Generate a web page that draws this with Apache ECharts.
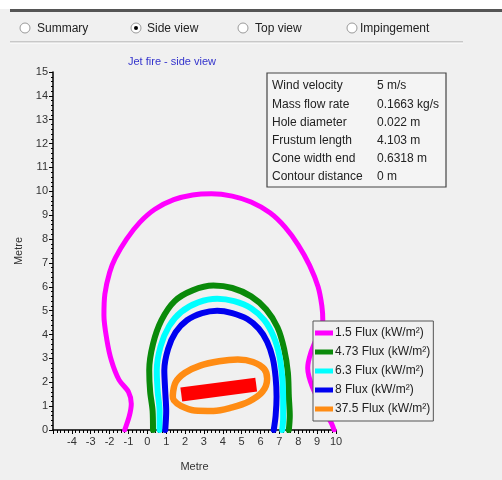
<!DOCTYPE html>
<html>
<head>
<meta charset="utf-8">
<script src="https://cdn.jsdelivr.net/npm/echarts@6/dist/echarts.min.js"></script>
<style>
html,body{margin:0;padding:0;background:#f0f0f0;}
#chart{width:502px;height:480px;}
</style>
</head>
<body>
<div id="chart"></div>
<script>
// ---- data ----
const tabLabels = ['Summary', 'Side view', 'Top view', 'Impingement'];
const selectedTab = 'Side view';
const chartTitle = 'Jet fire - side view';
const infoLabels = ['Wind velocity', 'Mass flow rate', 'Hole diameter', 'Frustum length', 'Cone width end', 'Contour distance'];
const infoValues = ['5 m/s', '0.1663 kg/s', '0.022 m', '4.103 m', '0.6318 m', '0 m'];
const seriesNames = ['1.5 Flux (kW/m\u00b2)', '4.73 Flux (kW/m\u00b2)', '6.3 Flux (kW/m\u00b2)', '8 Flux (kW/m\u00b2)', '37.5 Flux (kW/m\u00b2)'];
const xTicks = [-5, 10];
const yTicks = [0, 15];

const flux1_5 = [[-1.2,0],[-0.95,0.6],[-0.85,1.1],[-1.0,1.6],[-1.5,2.1],[-1.9,2.9],[-2.15,3.8],[-2.3,4.8],[-2.25,5.7],[-2.0,6.6],[-1.7,7.2],[-1.1,8.0],[-0.4,8.7],[0.4,9.25],[1.4,9.65],[2.4,9.85],[3.4,9.9],[4.5,9.8],[5.5,9.55],[6.5,9.1],[7.3,8.5],[8.0,7.75],[8.6,6.9],[9.05,6.0],[9.25,5.2],[9.3,4.6],[9.05,4.0],[8.65,3.2],[8.5,2.6],[8.75,1.8],[9.3,0.95],[9.75,0.3],[9.9,0]];
const flux4_73 = [[0.3,0],[0.28,0.8],[0.15,1.6],[0.1,2.5],[0.3,3.6],[0.75,4.6],[1.45,5.4],[2.4,5.85],[3.5,6.05],[4.5,5.95],[5.5,5.6],[6.3,5.05],[6.9,4.3],[7.25,3.4],[7.45,2.4],[7.5,1.4],[7.55,0.6],[7.5,0]];
const flux6_3 = [[0.65,0],[0.65,0.8],[0.55,1.6],[0.5,2.5],[0.7,3.5],[1.15,4.35],[1.8,4.95],[2.7,5.35],[3.7,5.5],[4.6,5.4],[5.5,5.1],[6.2,4.6],[6.7,3.9],[7.0,3.1],[7.15,2.2],[7.2,1.3],[7.2,0.5],[7.15,0]];
const flux8 = [[0.95,0],[1.0,0.8],[0.95,1.6],[0.9,2.5],[1.1,3.4],[1.5,4.1],[2.1,4.6],[2.9,4.9],[3.7,5.0],[4.5,4.9],[5.3,4.65],[5.9,4.25],[6.35,3.7],[6.65,3.0],[6.8,2.2],[6.85,1.4],[6.8,0.6],[6.7,0]];
const flux37_5 = [[1.35,1.45],[1.5,2.0],[2.0,2.4],[2.8,2.7],[3.8,2.88],[4.8,2.95],[5.6,2.85],[6.2,2.55],[6.35,2.15],[6.1,1.6],[5.4,1.2],[4.5,0.95],[3.5,0.8],[2.5,0.82],[1.8,1.0],[1.4,1.25],[1.35,1.45]];
const flame = [[1.8,1.49],[5.77,1.9]];

// ---- chart ----
const chart = echarts.init(document.getElementById('chart'));
const uiFont = '"Liberation Sans", Arial, sans-serif';
const colors = ['#ff00ff', '#0a8a0a', '#00ffff', '#0000f0', '#ff8c14'];

const graphics = [];
graphics.push({type:'rect', shape:{x:0,y:0,width:502,height:9}, style:{fill:'#ffffff'}, silent:true});
graphics.push({type:'rect', shape:{x:10,y:9,width:492,height:3}, style:{fill:'#555555'}, silent:true});
graphics.push({type:'line', shape:{x1:10,y1:42,x2:463,y2:42}, style:{stroke:'#a0a0a0', lineWidth:1}, silent:true});
graphics.push({type:'line', shape:{x1:10,y1:43,x2:463,y2:43}, style:{stroke:'#ffffff', lineWidth:1}, silent:true});
const tabCx = [25, 136, 243, 352];
const tabTx = [37, 147, 255, 360];
tabLabels.forEach((t, i) => {
  graphics.push({type:'circle', shape:{cx:tabCx[i], cy:28, r:5}, style:{fill:'#ffffff', stroke:'#9a9a9a', lineWidth:1}, silent:true});
  if (t === selectedTab) graphics.push({type:'circle', shape:{cx:tabCx[i], cy:28, r:2}, style:{fill:'#000'}, silent:true});
  graphics.push({type:'text', x:tabTx[i], y:29, style:{text:t, fill:'#222', font:'12px ' + uiFont, textVerticalAlign:'middle'}, silent:true});
});
// info box
graphics.push({type:'rect', shape:{x:267,y:73,width:179,height:114}, style:{fill:'#f4f4f4', stroke:'#444', lineWidth:1.2}, silent:true});
infoLabels.forEach((t, i) => {
  const y = 86 + i * 18.2;
  graphics.push({type:'text', x:272, y:y, style:{text:t, fill:'#222', font:'12px ' + uiFont, textVerticalAlign:'middle'}, silent:true});
  graphics.push({type:'text', x:377, y:y, style:{text:infoValues[i], fill:'#222', font:'12px ' + uiFont, textVerticalAlign:'middle'}, silent:true});
});

function lineSeries(name, data, color, width, smooth) {
  return {
    name: name, type: 'line', data: data, showSymbol: false, smooth: smooth,
    lineStyle: {color: color, width: width, cap: 'round', join: 'round'},
    itemStyle: {color: color}, silent: true, z: 3
  };
}

const series = [
  lineSeries(seriesNames[0], flux1_5, colors[0], 5, 0.3),
  lineSeries(seriesNames[1], flux4_73, colors[1], 6, 0.3),
  lineSeries(seriesNames[2], flux6_3, colors[2], 6, 0.3),
  lineSeries(seriesNames[3], flux8, colors[3], 6, 0.3),
  lineSeries(seriesNames[4], flux37_5, colors[4], 6.5, 0.35),
  {name:'flame', type:'line', data:flame, showSymbol:false, silent:true, z:4,
   lineStyle:{color:'#ff0000', width:14, cap:'butt'}}
];

chart.setOption({
  animation: false,
  backgroundColor: '#f0f0f0',
  textStyle: {fontFamily: uiFont},
  title: {text: chartTitle, left: 123, top: 51, textStyle:{color:'#3333cc', fontSize:11, fontWeight:'normal', fontFamily:uiFont}},
  grid: {left: 53, top: 72, width: 283, height: 358},
  legend: {
    data: seriesNames.map((n, i) => ({name:n, icon:'rect', itemStyle:{color:colors[i]}})),
    orient: 'vertical', left: 313, top: 321,
    itemWidth: 18, itemHeight: 5, itemGap: 7,
    padding: [6, 3, 6, 2],
    backgroundColor: '#f0f0f0', borderColor: '#555', borderWidth: 1,
    textStyle: {fontSize: 12, color:'#222', fontFamily: uiFont, padding:[0,0,0,-3]},
    selectedMode: false
  },
  xAxis: {
    type: 'value', min: xTicks[0], max: xTicks[1], interval: 1,
    name: 'Metre', nameLocation: 'middle', nameGap: 31,
    nameTextStyle: {fontSize: 11, color:'#333'},
    axisLine: {show:true, onZero:false, lineStyle:{color:'#000', width:1.5}},
    axisTick: {show:true, length:4, lineStyle:{color:'#000'}},
    minorTick: {show:true, splitNumber:5, length:3, lineStyle:{color:'#000'}},
    axisLabel: {showMinLabel:false, fontSize:11, color:'#333', margin:6},
    splitLine: {show:false}
  },
  yAxis: {
    type: 'value', min: yTicks[0], max: yTicks[1], interval: 1,
    name: 'Metre', nameLocation: 'middle', nameGap: 26, nameRotate: 90,
    nameTextStyle: {fontSize: 11, color:'#333'},
    axisLine: {show:true, onZero:false, lineStyle:{color:'#000', width:1.5}},
    axisTick: {show:true, length:4, lineStyle:{color:'#000'}},
    minorTick: {show:true, splitNumber:5, length:2, lineStyle:{color:'#000'}},
    axisLabel: {fontSize:11, color:'#333', margin:5},
    splitLine: {show:false}
  },
  series: series,
  graphic: graphics
});
</script>
</body>
</html>
